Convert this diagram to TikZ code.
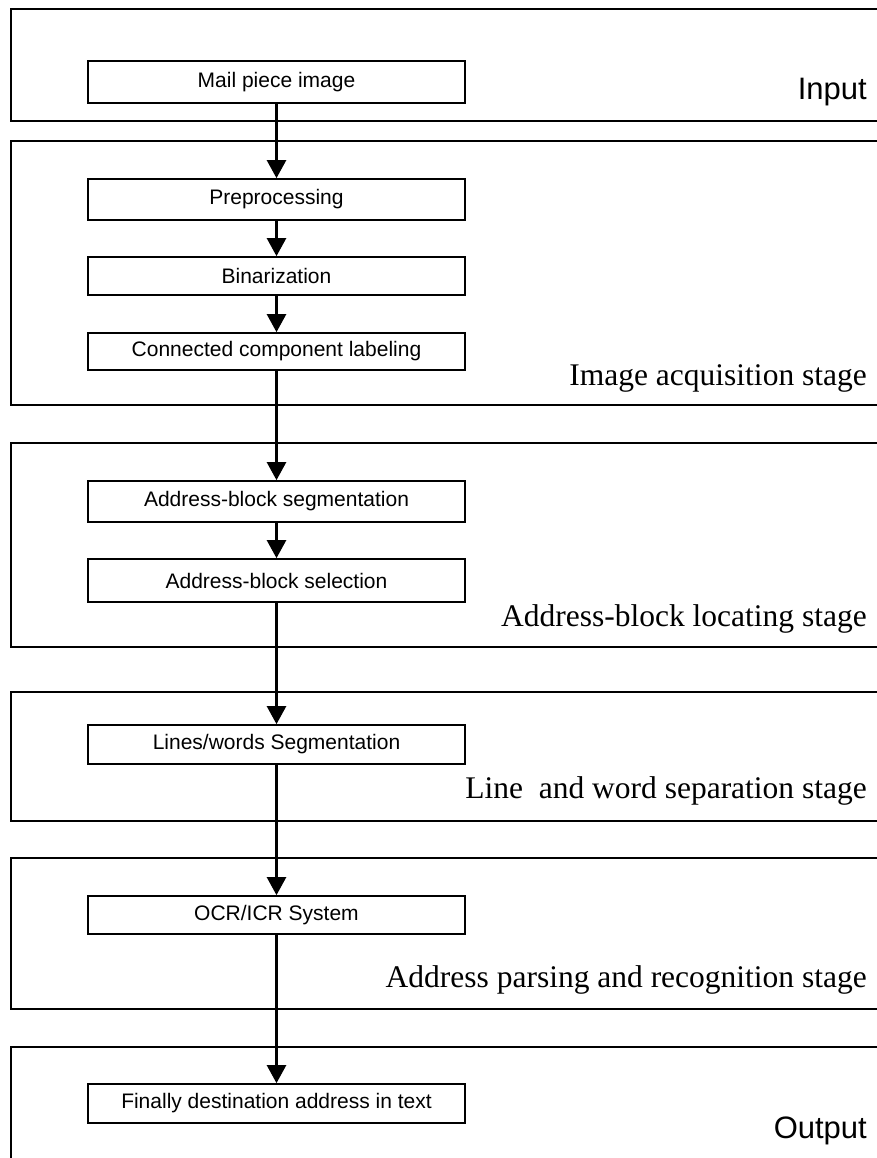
\documentclass[tikz,border=0pt]{standalone}
\usepackage{fontspec}
\setmainfont{Liberation Serif}
\setsansfont{Liberation Sans}
\usetikzlibrary{arrows.meta}
\tikzset{
  stagebox/.style={draw=black, line width=2.6pt},
  procbox/.style={draw=black, line width=1.7pt, fill=white, minimum width=377pt,
    inner sep=0pt, font=\sffamily\fontsize{21}{25}\selectfont},
  stagelabel/.style={anchor=base east, inner sep=0pt, font=\fontsize{31.5}{36}\selectfont},
  ioLabel/.style={anchor=base east, inner sep=0pt, font=\sffamily\fontsize{31}{36}\selectfont},
  flow/.style={line width=2.5pt, -{Triangle[width=19pt,length=18pt]}},
  plainflow/.style={line width=2.5pt}
}
\begin{document}
\begin{tikzpicture}[x=1pt,y=-1pt]
\useasboundingbox (0,0) rectangle (876,1158);
\fill[white] (0,0) rectangle (876,1158);
% stage frames
\draw[stagebox] (11,9) rectangle (905,121);
\draw[stagebox] (11,141) rectangle (905,405);
\draw[stagebox] (11,443) rectangle (905,647);
\draw[stagebox] (11,692) rectangle (905,821);
\draw[stagebox] (11,858) rectangle (905,1009);
\draw[stagebox] (11,1047) rectangle (905,1200);
% stage labels
\node[ioLabel] (lin) at (867,100) {Input};
\node[stagelabel] (lia) at (867,385) {Image acquisition stage};
\node[stagelabel] (lab) at (867,626) {Address-block locating stage};
\node[stagelabel] (llw) at (867,798) {Line\ \ and word separation stage};
\node[stagelabel] (lpr) at (867,987) {Address parsing and recognition stage};
\node[ioLabel] (lout) at (867,1138) {Output};
% process boxes
\node[procbox, minimum height=42pt] (mail) at (276.5,82) {Mail piece image};
\node[procbox, minimum height=41pt] (pre) at (276.5,199.5) {Preprocessing};
\node[procbox, minimum height=38pt] (bin) at (276.5,276) {Binarization};
\node[procbox, minimum height=37pt] (ccl) at (276.5,351.5) {Connected component labeling};
\node[procbox, minimum height=41pt] (abs) at (276.5,501.5) {Address-block segmentation};
\node[procbox, minimum height=43pt] (absel) at (276.5,580.5) {Address-block selection};
\node[procbox, minimum height=39pt] (lw) at (276.5,744.5) {Lines/words Segmentation};
\node[procbox, minimum height=38pt] (ocr) at (276.5,915) {OCR/ICR System};
\node[procbox, minimum height=39pt] (fin) at (276.5,1103.5) {Finally destination address in text};
% connectors
\draw[flow] (mail) -- (pre);
\draw[flow] (pre) -- (bin);
\draw[flow] (bin) -- (ccl);
\draw[flow] (ccl) -- (abs);
\draw[flow] (abs) -- (absel);
\draw[flow] (absel) -- (lw);
\draw[flow] (lw) -- (ocr);
\draw[flow] (ocr) -- (fin);
\end{tikzpicture}
\end{document}
